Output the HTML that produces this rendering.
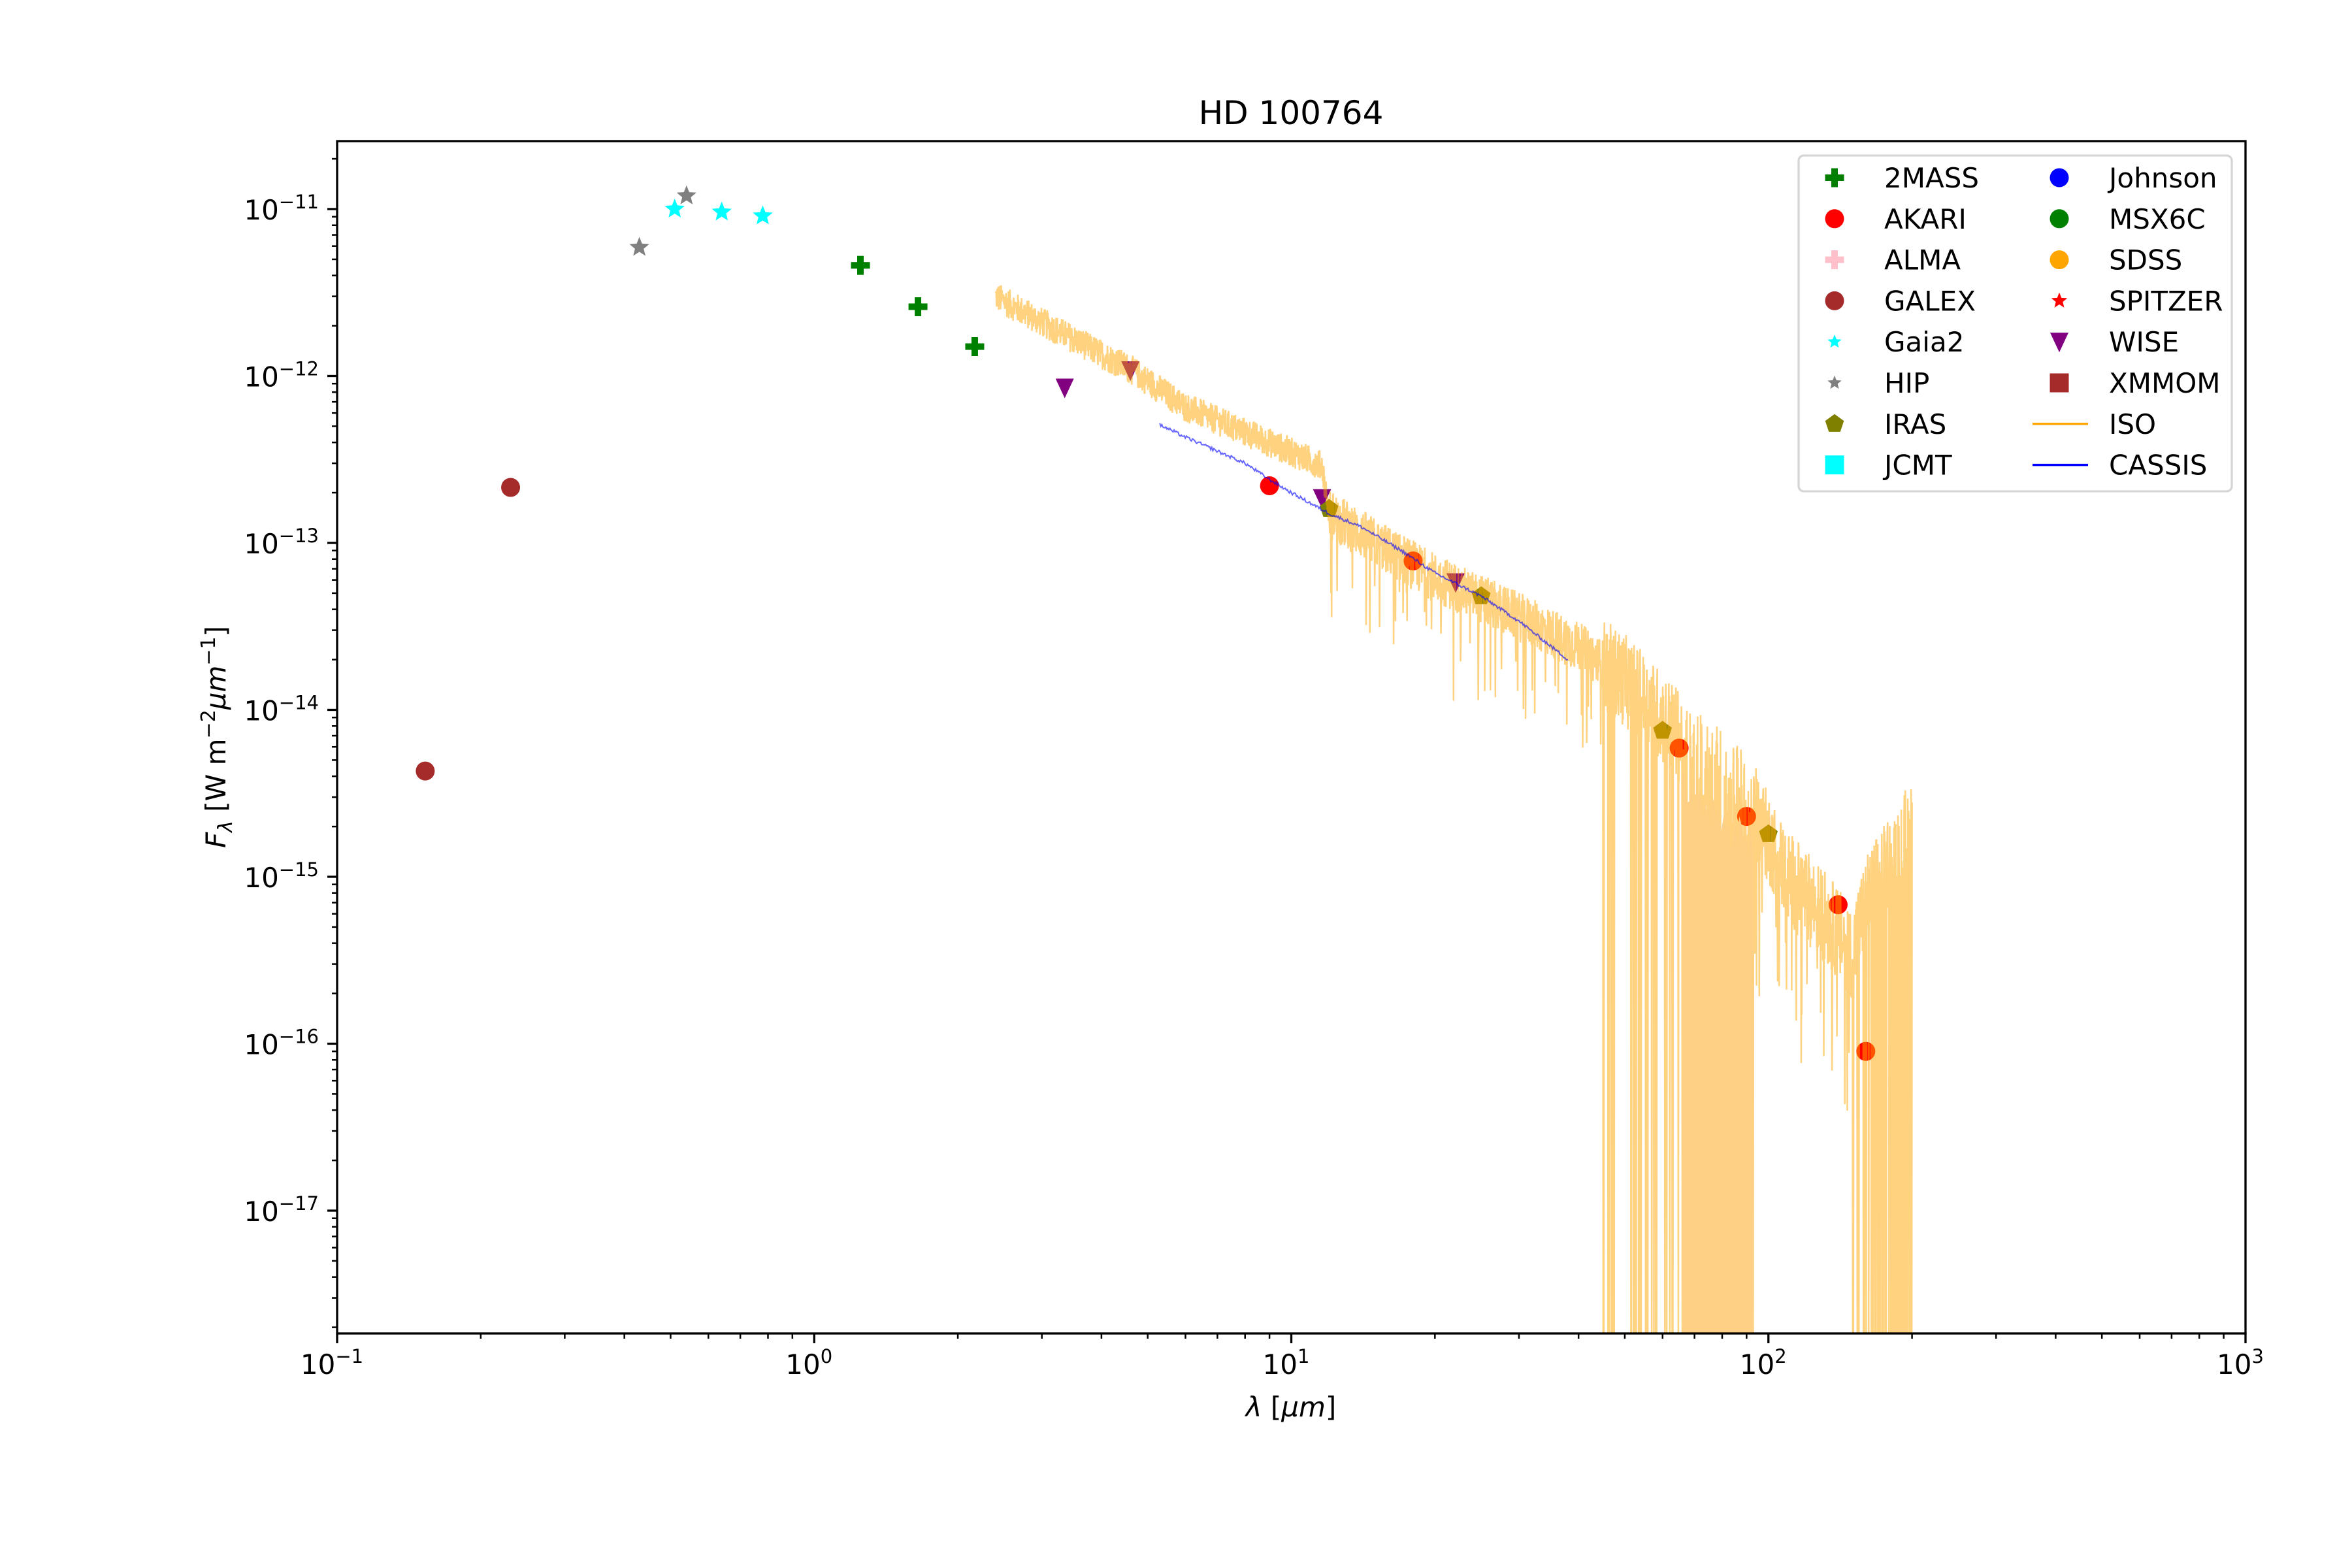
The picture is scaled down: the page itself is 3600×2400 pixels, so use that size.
<!DOCTYPE html>
<html><head><meta charset="utf-8">
<style>
html,body{margin:0;padding:0;background:#fff;}
svg{display:block;font-family:"DejaVu Sans","Liberation Sans",sans-serif;}
</style></head>
<body>
<svg id="s" width="3600" height="2400" viewBox="0 0 3600 2400" xmlns="http://www.w3.org/2000/svg">
<rect width="3600" height="2400" fill="#fff"/>
<defs><clipPath id="cp"><rect x="516" y="216" width="2921" height="1825"/></clipPath></defs>
<g id="plot" clip-path="url(#cp)"></g>
<g id="axes"></g>
<text x="1976" y="190" font-size="50" text-anchor="middle">HD 100764</text>
<text x="1976" y="2168" font-size="42" text-anchor="middle"><tspan font-style="italic">λ</tspan> [<tspan font-style="italic">μm</tspan>]</text>
<text transform="translate(345,1128) rotate(-90)" font-size="42" text-anchor="middle"><tspan font-style="italic">F</tspan><tspan font-style="italic" font-size="30" dy="10">λ</tspan><tspan dy="-10"> [W m</tspan><tspan font-size="30" dy="-16">−2</tspan><tspan font-style="italic" dy="16">μm</tspan><tspan font-size="30" dy="-16">−1</tspan><tspan dy="16">]</tspan></text>
<g id="legend"></g>
</svg>
<script>
(function(){
var NS="http://www.w3.org/2000/svg";
function X(l){return 516+730.25*(Math.log10(l)+1);}
function Y(f){return 320+255.5*(-11-Math.log10(f));}
var plot=document.getElementById('plot'),axes=document.getElementById('axes'),leg=document.getElementById('legend');
function el(p,tag,at){var e=document.createElementNS(NS,tag);for(var k in at)e.setAttribute(k,at[k]);p.appendChild(e);return e;}
function star(cx,cy,r,ri){var pts=[];for(var i=0;i<10;i++){var a=-Math.PI/2+i*Math.PI/5;var rr=i%2?ri:r;pts.push((cx+rr*Math.cos(a)).toFixed(1)+','+(cy+rr*Math.sin(a)).toFixed(1));}return pts.join(' ');}
function pent(cx,cy,r){var pts=[];for(var i=0;i<5;i++){var a=-Math.PI/2+i*2*Math.PI/5;pts.push((cx+r*Math.cos(a)).toFixed(1)+','+(cy+r*Math.sin(a)).toFixed(1));}return pts.join(' ');}
function marker(p,type,cx,cy,col,sz){
 sz=sz||1;
 if(type=='o')el(p,'ellipse',{cx:cx,cy:cy,rx:14.5*sz,ry:14.5*sz,fill:col});
 else if(type=='+'){el(p,'rect',{x:cx-14.5*sz,y:cy-5,width:29*sz,height:10,fill:col});el(p,'rect',{x:cx-5,y:cy-14.5*sz,width:10,height:29*sz,fill:col});}
 else if(type=='*')el(p,'polygon',{points:star(cx,cy,16*sz,7*sz),fill:col});
 else if(type=='v')el(p,'polygon',{points:(cx-14)+','+(cy-14)+' '+(cx+14)+','+(cy-14)+' '+cx+','+(cy+16),fill:col});
 else if(type=='p')el(p,'polygon',{points:pent(cx,cy,15),fill:col});
 else if(type=='s')el(p,'rect',{x:cx-14.5,y:cy-14.5,width:29,height:29,fill:col});
}
var data=[
 ['o','#a52a2a',[[0.153,4.3e-15],[0.231,2.15e-13]]],
 ['*','#808080',[[0.43,5.9e-12],[0.54,1.2e-11]]],
 ['*','#00ffff',[[0.51,1.0e-11],[0.64,9.6e-12],[0.78,9.1e-12]]],
 ['+','#008000',[[1.25,4.6e-12],[1.65,2.6e-12],[2.17,1.5e-12]]],
 ['v','#800080',[[3.35,8.5e-13],[4.6,1.08e-12],[11.6,1.85e-13],[22.1,5.8e-14]]],
 ['o','#ff0000',[[9,2.2e-13],[18,7.8e-14],[65,5.9e-15],[90,2.3e-15],[140,6.8e-16],[160,9e-17]]],
 ['p','#808000',[[12,1.6e-13],[25,4.8e-14],[60,7.5e-15],[100,1.8e-15]]]
];
var mg=el(plot,'g',{});
data.forEach(function(d){d[2].forEach(function(pt){marker(mg,d[0],X(pt[0]),Y(pt[1]),d[1]);});});
var seed=12345;function rnd(){seed=(seed*1103515245+12345)%2147483648;return seed/2147483648;}
var tr=[[2.4,3.0e-12],[3,2.1e-12],[4,1.35e-12],[4.6,1.1e-12],[6,6.5e-13],[8,4.6e-13],[10,3.5e-13],[11.6,2.9e-13],[12,1.5e-13],[15,1.0e-13],[20,6.2e-14],[30,3.6e-14],[40,2.4e-14],[50,1.5e-14],[60,9e-15],[70,5.5e-15],[90,3e-15],[100,1.7e-15],[110,1.0e-15],[130,6e-16],[150,3.5e-16],[160,7e-16],[180,1.3e-15],[200,2e-15]];
function trend(l){for(var i=0;i<tr.length-1;i++){if(l<=tr[i+1][0]){var a=tr[i],b=tr[i+1];var t=(Math.log(l)-Math.log(a[0]))/(Math.log(b[0])-Math.log(a[0]));return Math.pow(10,Math.log10(a[1])+t*(Math.log10(b[1])-Math.log10(a[1])));}}return 2e-15;}
var d='',N=3000,l0=Math.log10(2.4),l1=Math.log10(200);
for(var i=0;i<=N;i++){
 var l=Math.pow(10,l0+(l1-l0)*i/N);
 var amp=l<12?0.09:(l<45?0.15:0.28);
 var v=Math.log10(trend(l))+(rnd()-0.5)*2*amp;
 var r=rnd();
 if(l>12&&l<45&&r<0.06)v-=0.25+rnd()*0.35;
 if(l>45&&l<66&&r<0.1)v=-19;
 else if(l>66&&l<93&&r<0.6)v=-19;
 else if(l>93&&l<150&&r<0.05)v-=0.4+rnd()*0.6;
 else if(l>150&&l<200&&r<0.3)v=-19;
 var y=Y(Math.pow(10,v));if(y>2100)y=2100;
 d+=(i?'L':'M')+X(l).toFixed(1)+','+y.toFixed(1);
}
el(plot,'path',{d:d,fill:'none',stroke:'#ffa500','stroke-opacity':0.5,'stroke-width':2.5,'stroke-linejoin':'bevel'});
var fp='';for(var k=0;k<=40;k++){var l=Math.pow(10,Math.log10(66)+(Math.log10(93)-Math.log10(66))*k/40);fp+=(k?'L':'M')+X(l).toFixed(1)+','+Y(trend(l)*Math.pow(10,-0.15-rnd()*0.25)).toFixed(1);}
fp+='L'+X(93).toFixed(1)+',2100L'+X(66).toFixed(1)+',2100Z';
el(plot,'path',{d:fp,fill:'#fdd086'});
var ct=[[5.3,5.1e-13],[6,4.3e-13],[8,3e-13],[9,2.4e-13],[10,2e-13],[12,1.5e-13],[14,1.25e-13],[17,9e-14],[20,6.6e-14],[25,4.8e-14],[30,3.4e-14],[38,2e-14]];
var cd='';for(var i=0;i<=400;i++){var l=Math.pow(10,Math.log10(5.3)+(Math.log10(38)-Math.log10(5.3))*i/400);var f=5e-13;for(var j=0;j<ct.length-1;j++){if(l<=ct[j+1][0]){var a=ct[j],b=ct[j+1];var t=(Math.log(l)-Math.log(a[0]))/(Math.log(b[0])-Math.log(a[0]));f=Math.pow(10,Math.log10(a[1])+t*(Math.log10(b[1])-Math.log10(a[1])));break;}}
 var v=Math.log10(f)+(rnd()-0.5)*0.02;cd+=(i?'L':'M')+X(l).toFixed(1)+','+Y(Math.pow(10,v)).toFixed(1);}
el(plot,'path',{d:cd,fill:'none',stroke:'#0000ff','stroke-opacity':0.6,'stroke-width':2});
el(axes,'rect',{x:516,y:216,width:2921,height:1825,fill:'none',stroke:'#000','stroke-width':3.3});
for(var e=-1;e<=3;e++){var x=X(Math.pow(10,e));el(axes,'line',{x1:x,y1:2041,x2:x,y2:2056,stroke:'#000','stroke-width':3.3});
 var t=el(axes,'text',{x:x-8,y:2103,'font-size':42,'text-anchor':'middle'});t.textContent='10';var s=el(axes,'tspan',{}); t.appendChild(s); s.setAttribute('font-size','29');s.setAttribute('dy','-17');s.textContent=(e<0?'−':'')+Math.abs(e);
 if(e<3)for(var m=2;m<=9;m++){var xm=X(m*Math.pow(10,e));el(axes,'line',{x1:xm,y1:2041,x2:xm,y2:2049,stroke:'#000','stroke-width':2.5});}}
for(var e=-18;e<=-10;e++){for(var m=1;m<=9;m++){var y=Y(m*Math.pow(10,e));if(y<216||y>2041)continue;
 if(m==1){el(axes,'line',{x1:501,y1:y,x2:516,y2:y,stroke:'#000','stroke-width':3.3});
  var t=el(axes,'text',{x:488,y:y+16,'font-size':42,'text-anchor':'end'});t.appendChild(document.createTextNode('10'));var s=document.createElementNS(NS,'tspan');s.setAttribute('font-size','29');s.setAttribute('dy','-17');s.textContent='−'+Math.abs(e);t.appendChild(s);}
 else el(axes,'line',{x1:508,y1:y,x2:516,y2:y,stroke:'#000','stroke-width':2.5});}}
el(leg,'rect',{x:2753,y:238,width:663,height:514,rx:8,fill:'#fff','fill-opacity':0.8,stroke:'#d6d6d6','stroke-width':3.3});
var items=[['+','#008000','2MASS'],['o','#ff0000','AKARI'],['+','#ffc0cb','ALMA'],['o','#a52a2a','GALEX'],['*','#00ffff','Gaia2',0.7],['*','#808080','HIP',0.7],['p','#808000','IRAS'],['s','#00ffff','JCMT'],
 ['o','#0000ff','Johnson'],['o','#008000','MSX6C'],['o','#ffa500','SDSS'],['*','#ff0000','SPITZER',0.8],['v','#800080','WISE'],['s','#a52a2a','XMMOM'],['-','#ffa500','ISO'],['-','#0000ff','CASSIS']];
items.forEach(function(it,i){var col=i<8?0:1,row=i%8;var y=272+row*62.8;var mx=col?3152:2808,tx=col?3228:2884;
 if(it[0]=='-')el(leg,'line',{x1:3111,y1:y,x2:3196,y2:y,stroke:it[1],'stroke-width':3.5});
 else marker(leg,it[0],mx,y,it[1],it[3]||1);
 var t=el(leg,'text',{x:tx,y:y+15,'font-size':42});t.textContent=it[2];});
})();
</script>
</body></html>
